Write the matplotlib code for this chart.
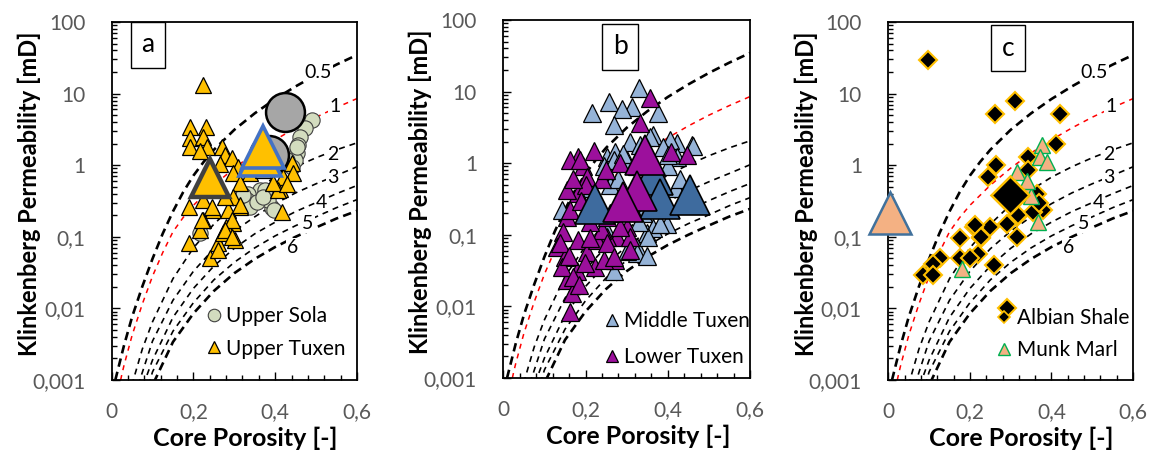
import matplotlib
matplotlib.use('Agg')
import matplotlib.pyplot as plt
from matplotlib.lines import Line2D
from matplotlib.ticker import FixedLocator, FixedFormatter, MultipleLocator, LogLocator, NullFormatter

plt.rcParams['font.family'] = ['Lato', 'DejaVu Sans']

# reference curves (porosity, permeability)
c05_phi = [0.009, 0.012, 0.03, 0.05, 0.075, 0.1, 0.125, 0.15, 0.175, 0.2, 0.225, 0.25, 0.3, 0.35, 0.4, 0.45, 0.5, 0.55, 0.6]
c05_k = [0.001, 0.00117, 0.003, 0.0076, 0.0202, 0.0494, 0.111, 0.226, 0.421, 0.715, 1.11, 1.64, 3.12, 5.3, 8.4, 12.6, 18.2, 25.4, 34.6]
c1_phi = [0.022, 0.025, 0.03, 0.05, 0.075, 0.1, 0.125, 0.15, 0.175, 0.2, 0.25, 0.3, 0.35, 0.4, 0.45, 0.5, 0.55, 0.6]
c1_k = [0.001, 0.0012, 0.00158, 0.0042, 0.0115, 0.0282, 0.0603, 0.1175, 0.186, 0.275, 0.525, 0.91, 1.48, 2.26, 3.31, 4.68, 6.38, 8.51]
c2_phi = [0.045, 0.053, 0.075, 0.1, 0.15, 0.2, 0.25, 0.3, 0.35, 0.4, 0.45, 0.5, 0.55, 0.6]
c2_k = [0.0006, 0.001, 0.0027, 0.0065, 0.026, 0.07, 0.15, 0.28, 0.45, 0.68, 0.95, 1.27, 1.64, 2.05]
c3_phi = [0.06, 0.069, 0.1, 0.15, 0.2, 0.25, 0.3, 0.35, 0.4, 0.45, 0.5, 0.55, 0.6]
c3_k = [0.0006, 0.001, 0.0035, 0.013, 0.033, 0.068, 0.12, 0.19, 0.29, 0.41, 0.55, 0.72, 0.95]
c4_phi = [0.07, 0.082, 0.1, 0.15, 0.2, 0.25, 0.3, 0.35, 0.4, 0.45, 0.5, 0.55, 0.6]
c4_k = [0.0006, 0.001, 0.0019, 0.0075, 0.019, 0.039, 0.069, 0.11, 0.16, 0.225, 0.3, 0.4, 0.52]
c5_phi = [0.085, 0.094, 0.1, 0.15, 0.2, 0.25, 0.3, 0.35, 0.4, 0.45, 0.5, 0.55, 0.6]
c5_k = [0.0006, 0.001, 0.0013, 0.0048, 0.012, 0.025, 0.044, 0.07, 0.103, 0.143, 0.19, 0.255, 0.33]
c6_phi = [0.095, 0.106, 0.15, 0.2, 0.25, 0.3, 0.35, 0.4, 0.45, 0.5, 0.55, 0.6]
c6_k = [0.0006, 0.001, 0.0034, 0.0085, 0.0175, 0.031, 0.049, 0.072, 0.1, 0.135, 0.18, 0.23]
curve_labels = ["0.5", "1", "2", "3", "4", "5", "6"]
curve_label_x = [0.505, 0.546, 0.541, 0.541, 0.514, 0.48, 0.443]
curve_label_y = [19.4, 6.5, 1.43, 0.68, 0.306, 0.155, 0.072]

# panel a
sola_phi = [0.49, 0.473, 0.461, 0.457, 0.453, 0.449, 0.453, 0.326, 0.343, 0.355, 0.363, 0.392, 0.383, 0.375, 0.334,
            0.33, 0.339, 0.355, 0.396, 0.371, 0.322, 0.216, 0.43, 0.44]
sola_k = [4.27, 3.26, 2.5, 1.9, 1.46, 1.19, 1.8, 0.31, 0.29, 0.36, 0.45, 0.25, 0.33, 0.45, 0.4,
          0.33, 0.26, 0.31, 0.236, 0.36, 0.38, 0.113, 1.2, 0.95]
utux_phi = [0.224, 0.192, 0.231, 0.192, 0.192, 0.224, 0.233, 0.216, 0.269, 0.277, 0.294, 0.265, 0.31, 0.297, 0.33,
            0.339, 0.314, 0.297, 0.314, 0.188, 0.188, 0.241, 0.249, 0.224, 0.216, 0.261, 0.273, 0.297, 0.302, 0.261,
            0.28, 0.285, 0.277, 0.224, 0.416, 0.412, 0.42, 0.441, 0.444, 0.395, 0.371, 0.314, 0.294, 0.277, 0.22,
            0.245, 0.294, 0.408, 0.395, 0.428]
utux_k = [13.2, 3.44, 3.4, 2.4, 1.8, 2.5, 1.8, 1.6, 1.8, 1.39, 1.25, 1.05, 0.95, 0.78, 1.05,
          0.78, 0.56, 0.36, 0.26, 0.26, 0.081, 0.05, 0.236, 0.17, 0.124, 0.081, 0.113, 0.155, 0.09, 0.065,
          0.139, 0.236, 0.36, 0.33, 0.225, 0.47, 0.69, 1.06, 0.78, 0.95, 0.85, 0.28, 0.17, 0.124, 0.17,
          0.26, 0.1, 0.45, 0.56, 0.55]
sola_mean_phi = [0.424, 0.385]
sola_mean_k = [5.6, 1.4]
utux_blue_phi = [0.371, 0.363]
utux_blue_k = [1.8, 1.38]
utux_mean_phi = [0.241]
utux_mean_k = [0.67]

# panel b
mtux_phi = [0.329, 0.256, 0.312, 0.288, 0.215, 0.377, 0.268, 0.365, 0.422, 0.458, 0.406, 0.308, 0.333, 0.251, 0.272,
            0.246, 0.349, 0.324, 0.268, 0.397, 0.365, 0.142, 0.34, 0.324, 0.353, 0.381, 0.462, 0.422, 0.244, 0.268,
            0.3, 0.357, 0.292, 0.324, 0.389, 0.2, 0.26, 0.3, 0.36, 0.42, 0.38,
            0.28, 0.31, 0.33, 0.4, 0.43, 0.35, 0.3, 0.25, 0.4]
mtux_k = [11.1, 7.2, 6.1, 5.8, 5.0, 5.0, 3.4, 2.47, 1.9, 1.8, 2.1, 2.0, 1.8, 1.23, 1.44,
          0.9, 0.105, 0.068, 0.031, 0.143, 0.123, 0.22, 0.2, 0.055, 0.094, 0.143, 1.72, 1.23, 0.65, 1.1,
          1.1, 2.35, 1.35, 0.9, 1.7, 0.45, 0.5, 0.3, 0.5, 0.45, 0.3,
          0.6, 0.25, 0.15, 0.9, 0.6, 0.05, 0.06, 0.12, 1.3]
ltux_phi = [0.357, 0.333, 0.446, 0.182, 0.162, 0.194, 0.284, 0.182, 0.154, 0.154, 0.146, 0.182, 0.13, 0.15, 0.203,
            0.223, 0.154, 0.166, 0.162, 0.272, 0.244, 0.3, 0.276, 0.251, 0.227, 0.239, 0.138, 0.178, 0.142, 0.308,
            0.187, 0.162, 0.203, 0.219, 0.251, 0.284, 0.251, 0.308, 0.268, 0.199, 0.17, 0.409, 0.2, 0.23,
            0.17, 0.19, 0.21, 0.16, 0.185, 0.21, 0.24, 0.26, 0.22, 0.25]
ltux_k = [8.2, 3.6, 1.3, 1.23, 1.1, 0.9, 1.0, 0.38, 0.42, 0.18, 0.11, 0.085, 0.068, 0.049, 0.058,
          0.036, 0.023, 0.0153, 0.0084, 0.045, 0.045, 0.13, 0.094, 0.094, 0.085, 0.117, 0.076, 0.031, 0.036, 0.094,
          1.1, 0.22, 0.65, 0.34, 0.18, 0.13, 0.076, 0.062, 0.049, 0.04, 0.026, 1.45, 0.5, 0.25,
          0.6, 0.3, 0.15, 0.05, 0.02, 0.09, 0.6, 0.2, 1.5, 0.8]
mtux_mean_phi = [0.223, 0.365, 0.381, 0.454]
mtux_mean_k = [0.27, 0.68, 0.32, 0.36]
ltux_mean_phi = [0.345, 0.324, 0.292]
ltux_mean_k = [1.3, 0.41, 0.29]

# panel c
alb_phi = [0.098, 0.262, 0.311, 0.42, 0.412, 0.265, 0.245, 0.343, 0.343, 0.364, 0.38, 0.316, 0.29, 0.25, 0.209,
           0.176, 0.226, 0.316, 0.219, 0.176, 0.2, 0.127, 0.11, 0.259, 0.086, 0.11, 0.29, 0.212, 0.228, 0.319,
           0.355, 0.37]
alb_k = [29, 5.25, 8.0, 5.25, 2.0, 1.0, 0.68, 1.3, 0.85, 0.4, 0.24, 0.19, 0.153, 0.138, 0.138,
         0.095, 0.095, 0.1, 0.058, 0.05, 0.05, 0.05, 0.042, 0.04, 0.029, 0.029, 0.01, 0.145, 0.1, 0.2,
         0.22, 0.3]
munk_phi = [0.376, 0.372, 0.388, 0.316, 0.335, 0.35, 0.367, 0.18, 0.34]
munk_k = [1.9, 1.3, 1.1, 0.8, 0.5, 0.37, 0.16, 0.036, 0.6]
alb_mean_phi = [0.298]
alb_mean_k = [0.38]
munk_mean_phi = [0.004]
munk_mean_k = [0.217]

ytick_vals = [0.001, 0.01, 0.1, 1, 10, 100]
ytick_text = ["0,001", "0,01", "0,1", "1", "10", "100"]
xtick_vals = [0, 0.2, 0.4, 0.6]
xtick_text = ["0", "0,2", "0,4", "0,6"]

curves = [(c05_phi, c05_k), (c1_phi, c1_k), (c2_phi, c2_k), (c3_phi, c3_k),
          (c4_phi, c4_k), (c5_phi, c5_k), (c6_phi, c6_k)]
curve_style = [("black", 1.9, (3.2, 2.0)), ("red", 1.1, (3.3, 3.3)), ("black", 1.2, (3.6, 3.0)),
               ("black", 1.2, (3.6, 3.0)), ("black", 1.2, (3.6, 3.0)), ("black", 1.2, (3.6, 3.0)),
               ("black", 1.9, (3.2, 2.0))]

grey = "#595959"

fig = plt.figure(figsize=(11.51, 4.57), dpi=100)
axa = fig.add_axes([0.0970, 0.1685, 0.2131, 0.7834])
axb = fig.add_axes([0.4373, 0.1729, 0.2143, 0.7834])
axc = fig.add_axes([0.7718, 0.1685, 0.2126, 0.7834])


def setup(ax, letter, lx, ly, labels=True):
  for (px, pk), (col, lw, dash) in zip(curves, curve_style):
    ax.plot(px, pk, color=col, lw=lw, dashes=dash, zorder=1)
  if labels:
    for t, x, y in zip(curve_labels, curve_label_x, curve_label_y):
      ax.text(x, y, t, fontsize=14, ha="center", va="center", zorder=2,
              bbox=dict(boxstyle="square,pad=0.05", fc="white", ec="none"))
  ax.set_yscale("log")
  ax.set_xlim(0, 0.6)
  ax.set_ylim(0.001, 100)
  ax.yaxis.set_major_locator(FixedLocator(ytick_vals))
  ax.yaxis.set_major_formatter(FixedFormatter(ytick_text))
  ax.yaxis.set_minor_locator(LogLocator(base=10, subs=range(2, 10)))
  ax.yaxis.set_minor_formatter(NullFormatter())
  ax.xaxis.set_major_locator(FixedLocator(xtick_vals))
  ax.xaxis.set_major_formatter(FixedFormatter(xtick_text))
  ax.xaxis.set_minor_locator(MultipleLocator(0.04))
  ax.tick_params(which="both", direction="in", top=False, right=False, labelcolor=grey, labelsize=15, width=1)
  ax.tick_params(which="major", length=6)
  ax.tick_params(which="minor", length=3.5)
  ax.tick_params(axis="y", pad=19)
  ax.tick_params(axis="x", pad=16)
  for s in ax.spines.values():
    s.set_linewidth(1.3)
  ax.set_ylabel("Klinkenberg Permeability [mD]", fontsize=17, fontweight="bold", va="center")
  ax.yaxis.set_label_coords(-0.335, 0.52)
  ax.set_xlabel("Core Porosity [-]", fontsize=18, fontweight="bold", va="center")
  ax.xaxis.set_label_coords(0.545, -0.162)
  ax.text(lx, ly, letter, transform=ax.transAxes, fontsize=19, ha="center", va="center", zorder=6,
          bbox=dict(boxstyle="square,pad=0.4", fc="white", ec="black", lw=1))


setup(axa, "a", 0.148, 0.936)
setup(axb, "b", 0.474, 0.925, labels=False)
setup(axc, "c", 0.49, 0.927)

leg_kw = dict(loc="lower right", frameon=False, fontsize=15, handletextpad=0.1,
              handlelength=1.0, borderpad=0, borderaxespad=0)

# panel a
axa.plot(sola_phi, sola_k, "o", ms=11, mfc="#D3DCBF", mec="#404040", mew=0.8, ls="none", zorder=3)
axa.plot(utux_phi, utux_k, "^", ms=11.5, mfc="#FFC000", mec="black", mew=0.9, ls="none", zorder=3)
axa.plot(sola_mean_phi, sola_mean_k, "o", ms=28, mfc="#A6A6A6", mec="black", mew=1.8, ls="none", zorder=4)
axa.plot(utux_blue_phi[::-1], utux_blue_k[::-1], "^", ms=30, mfc="#FFC000", mec="#4472C4", mew=2.6, ls="none", zorder=4)
axa.plot(utux_mean_phi, utux_mean_k, "^", ms=27, mfc="#FFC000", mec="#404040", mew=3.2, ls="none", zorder=4)
h_a = [Line2D([], [], marker="o", ms=9, mfc="#D3DCBF", mec="#404040", mew=0.8, ls="none"),
       Line2D([], [], marker="^", ms=9, mfc="#FFC000", mec="black", mew=0.9, ls="none")]
axa.legend(h_a, ["Upper Sola", "Upper Tuxen"], bbox_to_anchor=(0.955, 0.06), labelspacing=0.6, **leg_kw)

# panel b
axb.plot(mtux_phi, mtux_k, "^", ms=12.5, mfc="#95B3D7", mec="black", mew=0.9, ls="none", zorder=3)
axb.plot(ltux_phi, ltux_k, "^", ms=12.5, mfc="#9C109C", mec="black", mew=0.9, ls="none", zorder=3)
axb.plot(mtux_mean_phi, mtux_mean_k, "^", ms=29, mfc="#3E6B9E", mec="black", mew=1.2, ls="none", zorder=4)
axb.plot(ltux_mean_phi, ltux_mean_k, "^", ms=29, mfc="#9C109C", mec="black", mew=1.2, ls="none", zorder=4)
h_b = [Line2D([], [], marker="^", ms=9, mfc="#95B3D7", mec="black", mew=0.9, ls="none"),
       Line2D([], [], marker="^", ms=9, mfc="#9C109C", mec="black", mew=0.9, ls="none")]
axb.legend(h_b, ["Middle Tuxen", "Lower Tuxen"], bbox_to_anchor=(1.0, 0.03), labelspacing=0.78, **leg_kw)

# panel c
axc.plot(alb_phi, alb_k, "D", ms=9.5, mfc="black", mec="#FFC000", mew=1.5, ls="none", zorder=3)
axc.plot(munk_phi, munk_k, "^", ms=12, mfc="#F4B183", mec="#00B050", mew=1.0, ls="none", zorder=3)
axc.plot(alb_mean_phi, alb_mean_k, "D", ms=19, mfc="black", mec="#FFC000", mew=1.8, ls="none", zorder=4)
axc.plot(munk_mean_phi, munk_mean_k, "^", ms=30, mfc="#F4B183", mec="#41719C", mew=1.8, ls="none",
         zorder=4, clip_on=False)
h_c = [Line2D([], [], marker="D", ms=6, mfc="black", mec="#FFC000", mew=1.2, ls="none"),
       Line2D([], [], marker="^", ms=9, mfc="#F4B183", mec="#00B050", mew=1.0, ls="none")]
axc.legend(h_c, ["Albian Shale", "Munk Marl"], bbox_to_anchor=(0.985, 0.056), labelspacing=0.55, **leg_kw)

plt.savefig("out.png", dpi=100)
